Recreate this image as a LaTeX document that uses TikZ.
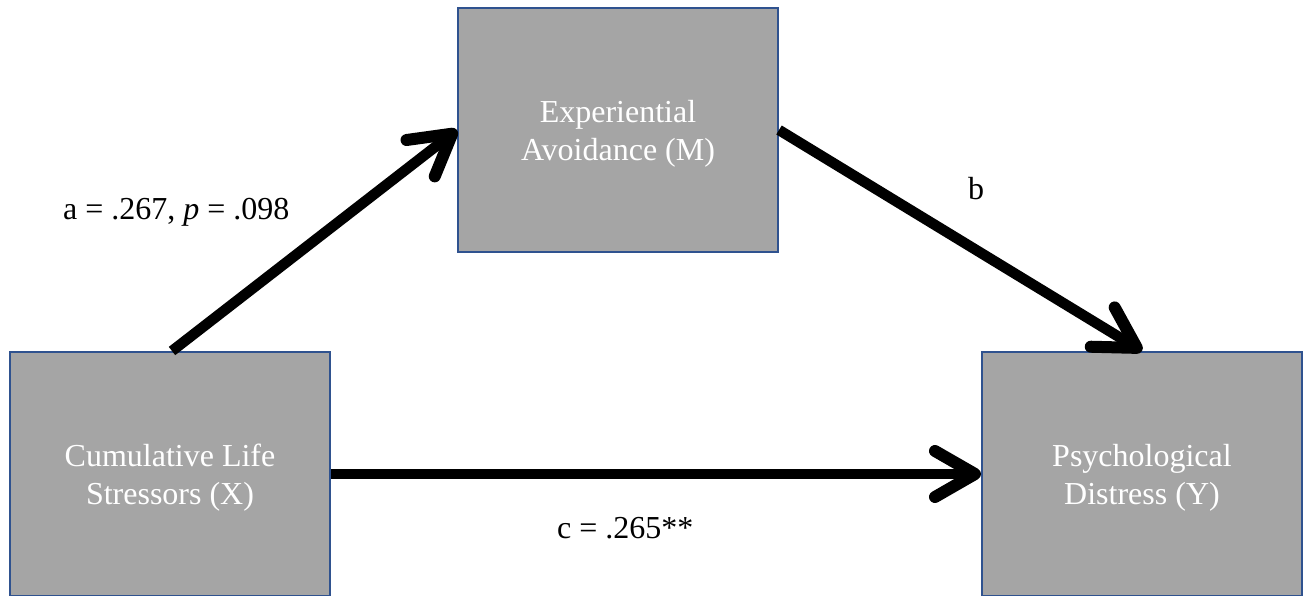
\documentclass[tikz,border=0pt]{standalone}
\usepackage{fontspec}
\setmainfont{Liberation Serif}
\usetikzlibrary{arrows.meta}
\definecolor{boxfill}{HTML}{A5A5A5}
\definecolor{boxline}{HTML}{2F528F}
\tikzset{
  varbox/.style={draw=boxline, line width=2pt, fill=boxfill, minimum width=320pt, minimum height=244pt, inner sep=0pt, align=center, text=white, text depth=0pt, font=\fontsize{32pt}{38pt}\selectfont},
  patharrow/.style={line width=10.5pt, -{Straight Barb[length=40pt,width=46pt,round,line width=12pt]}},
  lbl/.style={anchor=base west, inner sep=0pt, font=\fontsize{32pt}{38pt}\selectfont}
}
\begin{document}
\begin{tikzpicture}[x=1pt,y=-1pt]
\useasboundingbox (0,0) rectangle (1309,596);
\node[varbox] (M) at (618,130) {Experiential\\Avoidance (M)};
\node[varbox] (X) at (170,474) {Cumulative Life\\Stressors (X)};
\node[varbox] (Y) at (1142,474) {Psychological\\Distress (Y)};
\draw[patharrow] ([xshift=2pt]X.north) -- (M.west);
\draw[patharrow] (M.east) -- (Y.north);
\draw[patharrow] (X.east) -- (Y.west);
\node[lbl] (la) at (63,220) {a = .267, \textit{p} = .098};
\node[lbl] (lb) at (968,200) {b};
\node[lbl] (lc) at (557,538) {c = .265**};
\end{tikzpicture}
\end{document}
